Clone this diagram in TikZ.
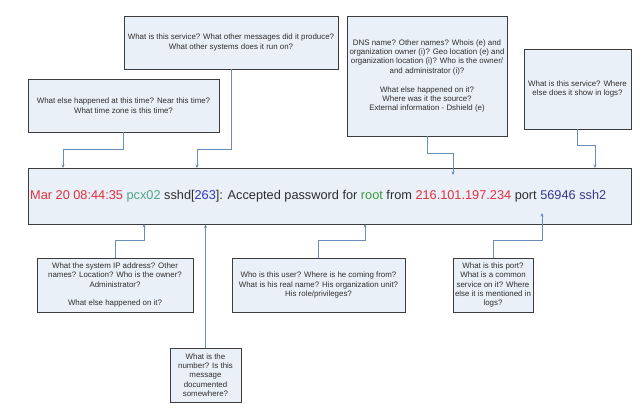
\documentclass[tikz,border=0pt]{standalone}
\usepackage{fontspec}
\setmainfont{Liberation Sans}
\usetikzlibrary{arrows.meta}
\definecolor{boxfill}{HTML}{EAF0F8}
\definecolor{boxdraw}{HTML}{3C3C3C}
\definecolor{conncol}{HTML}{6A8DB8}
\definecolor{txt}{HTML}{2E2E2E}
\definecolor{cred}{HTML}{E0303E}
\definecolor{cteal}{HTML}{4FA57E}
\definecolor{cblue}{HTML}{3038C0}
\definecolor{cgreen}{HTML}{3C9A3C}
\definecolor{cnavy}{HTML}{38388C}
\begin{document}
\begin{tikzpicture}[x=1pt,y=-1pt,
  qbox/.style={draw=boxdraw,fill=boxfill,line width=0.9pt,inner sep=1pt,align=center,
    text=txt,font=\fontsize{7.9}{9.4}\selectfont},
  conn/.style={draw=conncol,line width=0.8pt,-{Stealth[length=3.5pt,width=3pt]}},
]
\useasboundingbox (0,0) rectangle (640,409);
\fill[white] (0,0) rectangle (640,409);

% main box
\node[draw=boxdraw,fill=boxfill,line width=0.9pt,minimum width=603pt,minimum height=56pt,inner sep=0pt] (main) at (329.5,196) {};
\node[anchor=west,inner sep=0pt,font=\fontsize{12.75}{14}\selectfont,text=txt] (maintxt) at (30,196)
  {\textcolor{cred}{Mar 20 08:44:35} \textcolor{cteal}{pcx02} sshd[\textcolor{cblue}{263}]: Accepted password for \textcolor{cgreen}{root} from \textcolor{cred}{216.101.197.234} port \textcolor{cnavy}{56946 ssh2}};

% top boxes
\node[qbox,minimum width=214pt,minimum height=53pt] (svc) at (231,42.5)
  {What is this service? What other messages did it produce?\\What other systems does it run on?};
\node[qbox,minimum width=191pt,minimum height=53pt] (time) at (123.5,105.5)
  {What else happened at this time? Near this time?\\What time zone is this time?};
\node[qbox,minimum width=160pt,minimum height=120pt] (dns) at (427,76)
  {DNS name? Other names? Whois (e) and\\organization owner (i)? Geo location (e) and\\organization location (i)? Who is the owner/\\and administrator (i)?\\[9.4pt]What else happened on it?\\Where was it the source?\\External information - Dshield (e)};
\node[qbox,minimum width=107pt,minimum height=80pt] (svctwo) at (577.5,89)
  {What is this service? Where\\else does it show in logs?};

% bottom boxes
\node[qbox,minimum width=156pt,minimum height=54pt] (ip) at (115,285)
  {What the system IP address? Other\\names? Location? Who is the owner?\\Administrator?\\[9.4pt]What else happened on it?};
\node[qbox,minimum width=71pt,minimum height=54pt] (num) at (205.5,375)
  {What is the\\number? Is this\\message\\documented\\somewhere?};
\node[qbox,minimum width=173pt,minimum height=54pt] (user) at (318.5,285)
  {Who is this user? Where is he coming from?\\What is his real name? His organization unit?\\His role/privileges?};
\node[qbox,minimum width=80pt,minimum height=54pt] (port) at (493,285)
  {What is this port?\\What is a common\\service on it? Where\\else it is mentioned in\\logs?};

% connector end points
\coordinate (e1) at (63,168);
\coordinate (e2) at (197,168);
\coordinate (e3) at (453,175);
\coordinate (e4) at (595,168);
\coordinate (e5) at (144,224);
\coordinate (e7) at (365,224);
\coordinate (e8) at (542,213);

\draw[conn] (time.south) -- ++(0,17) -| (e1);
\draw[conn] (svc.south) -- ++(0,80) -| (e2);
\draw[conn] (dns.south) -- ++(0,17) -| (e3);
\draw[conn] (svctwo.south) -- ++(0,16) -| (e4);
\draw[conn] (ip.north) -- ++(0,-17) -| (e5);
\draw[conn] (num.north) -- (num.north |- main.south);
\draw[conn] (user.north) -- ++(0,-17) -| (e7);
\draw[conn] (port.north) -- ++(0,-17) -| (e8);
\end{tikzpicture}
\end{document}
